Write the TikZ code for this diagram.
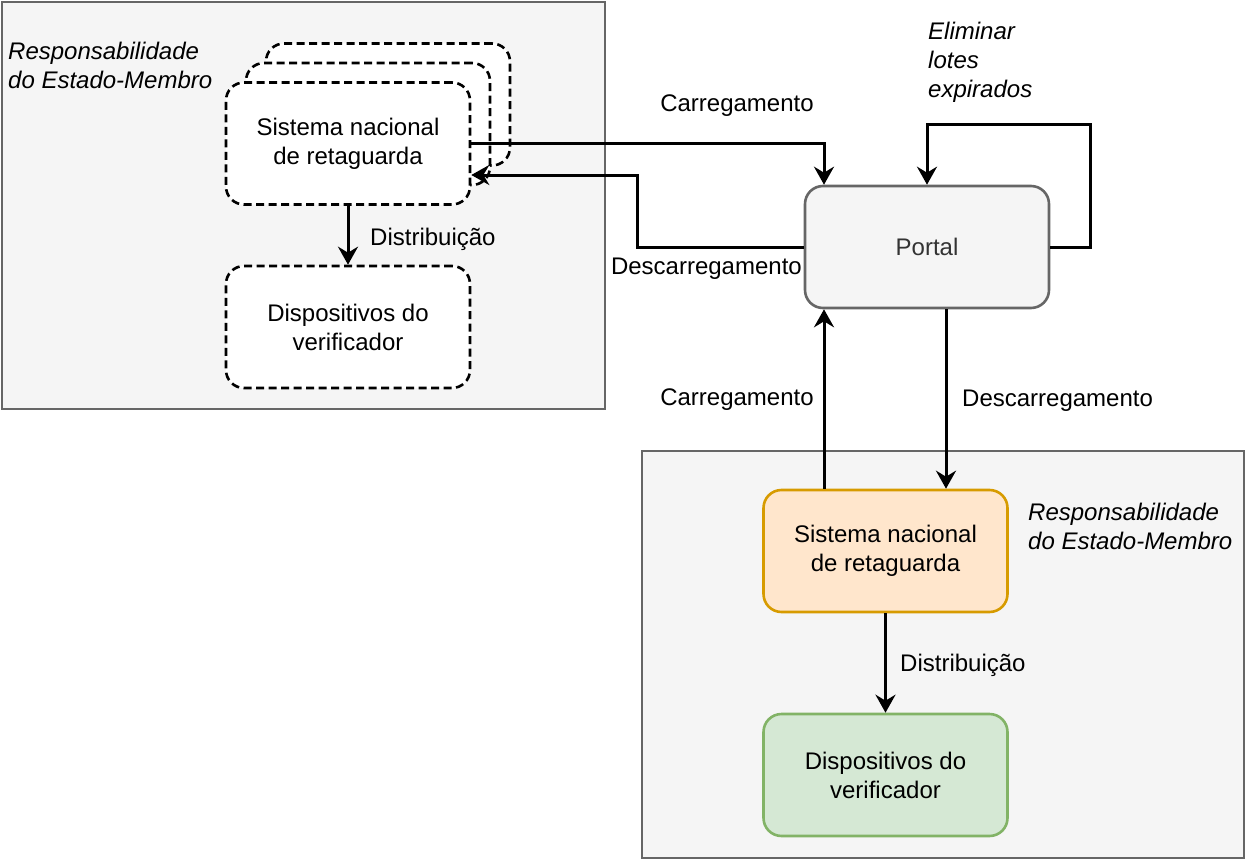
\documentclass[tikz,border=0pt]{standalone}
\usepackage{fontspec}
\setmainfont{Liberation Sans}
\usetikzlibrary{arrows.meta}
\definecolor{cfill}{HTML}{F5F5F5}
\definecolor{cstroke}{HTML}{666666}
\definecolor{ptext}{HTML}{333333}
\definecolor{ofill}{HTML}{FFE6CC}
\definecolor{ostroke}{HTML}{D79B00}
\definecolor{gfill}{HTML}{D5E8D4}
\definecolor{gstroke}{HTML}{82B366}
\begin{document}
\begin{tikzpicture}[x=1pt,y=-1pt,
  every node/.style={font=\fontsize{24}{29}\selectfont, inner sep=0pt},
  container/.style={draw=cstroke, fill=cfill, line width=2.2pt, anchor=north west},
  box/.style={rounded corners=18pt, minimum width=244pt, minimum height=122pt, line width=2.6pt, align=center},
  dbox/.style={box, draw=black, fill=white, dash pattern=on 8pt off 4.5pt},
  edge/.style={draw=black, line width=3pt, -{Stealth[length=18pt,width=20pt,inset=6pt]}},
  lbl/.style={text=black},
  note/.style={font=\fontsize{24}{29}\selectfont\itshape, align=left, anchor=north west}
]
\useasboundingbox (0,0) rectangle (1245,859);
% containers
\node[container, minimum width=603pt, minimum height=407pt] (leftc) at (1,1) {};
\node[container, minimum width=602pt, minimum height=407pt] (rightc) at (641,450) {};
% left stacked dashed boxes
\node[dbox] (sys3) at (388,104.5) {};
\node[dbox] (sys2) at (368,124) {};
\node[dbox] (sys) at (348,143.5) {Sistema nacional\\de retaguarda};
\node[dbox] (disp) at (348,327) {Dispositivos do\\verificador};
% portal
\node[box, draw=cstroke, fill=cfill, text=ptext] (portal) at (927,247) {Portal};
% right boxes
\node[box, draw=ostroke, fill=ofill] (osys) at (885.5,551) {Sistema nacional\\de retaguarda};
\node[box, draw=gstroke, fill=gfill] (gdisp) at (885.5,775) {Dispositivos do\\verificador};
% notes
\node[note] (noteL) at (8,42) {Responsabilidade\\do Estado-Membro};
\node[note] (noteR) at (1028,503) {Responsabilidade\\do Estado-Membro};
\node[note] (noteE) at (928,21.5) {Eliminar\\lotes\\expirados};
% connectors
\draw[edge] (sys.south) -- (disp.north);
\draw[edge] (sys.east) -| ([xshift=-103pt]portal.north);
\draw[edge] (portal.west) -| (637,175) -- ([yshift=-31.5pt]sys.east);
\draw[edge] (portal.east) -- ++(40,0) |- ([yshift=60pt]portal.north) -- (portal.north);
\draw[edge] ([xshift=-103pt]portal.south |- osys.north) -- ([xshift=-103pt]portal.south);
\draw[edge] ([xshift=19pt]portal.south) -- ([xshift=19pt]portal.south |- osys.north);
\draw[edge] (osys.south) -- (gdisp.north);
% edge labels
\node[lbl] (l1) at (737,106) {Carregamento};
\node[lbl, anchor=east] (l2) at (802,269) {Descarregamento};
\node[lbl, anchor=west] (l3) at (370,239) {Distribuição};
\node[lbl] (l4) at (737,400) {Carregamento};
\node[lbl, anchor=west] (l5) at (962,401) {Descarregamento};
\node[lbl, anchor=west] (l6) at (900,665) {Distribuição};
\end{tikzpicture}
\end{document}
